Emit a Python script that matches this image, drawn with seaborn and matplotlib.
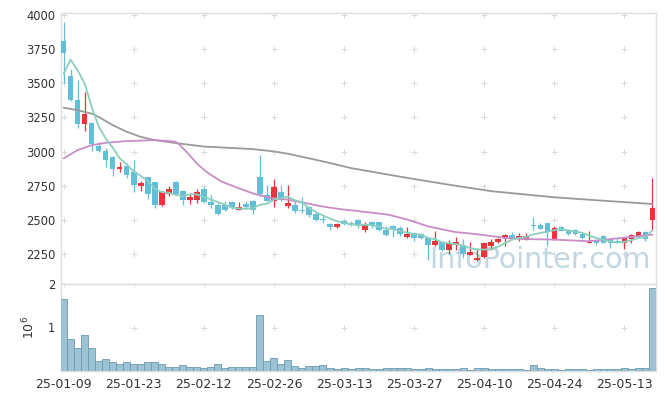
import numpy as np
import pandas as pd
import matplotlib
matplotlib.use("Agg")
import matplotlib.pyplot as plt
import seaborn as sns

# ---------------- data ----------------
holidays = ['2025-01-27', '2025-01-28', '2025-01-29', '2025-01-30',
            '2025-03-03', '2025-05-01', '2025-05-05', '2025-05-06']
dates = [d.strftime('%y-%m-%d') for d in pd.bdate_range('2025-01-09', '2025-05-19')
         if d.strftime('%Y-%m-%d') not in holidays]

opens = [3810, 3554, 3379, 3205, 3210, 3042, 3004, 2962, 2869, 2896,
         2852, 2745, 2811, 2774, 2606, 2691, 2779, 2713, 2643, 2643,
         2728, 2633, 2611, 2611, 2633, 2574, 2618, 2640, 2811, 2684,
         2640, 2706, 2599, 2606, 2574, 2591, 2545, 2509, 2472, 2445,
         2489, 2479, 2501, 2423, 2484, 2484, 2428, 2457, 2441, 2372,
         2404, 2394, 2367, 2313, 2338, 2277, 2313, 2319, 2246, 2204,
         2229, 2307, 2336, 2372, 2392, 2360, 2355, 2460, 2465, 2477,
         2360, 2445, 2421, 2428, 2399, 2331, 2350, 2379, 2362, 2348,
         2331, 2360, 2384, 2411, 2501]
highs = [3950, 3603, 3523, 3437, 3215, 3067, 3028, 2966, 2920, 2913,
         2938, 2787, 2815, 2780, 2709, 2750, 2782, 2718, 2697, 2726,
         2740, 2684, 2624, 2640, 2636, 2633, 2640, 2645, 2977, 2757,
         2799, 2752, 2752, 2648, 2664, 2600, 2560, 2530, 2475, 2480,
         2497, 2490, 2508, 2484, 2486, 2486, 2452, 2460, 2452, 2448,
         2414, 2400, 2370, 2416, 2340, 2355, 2372, 2362, 2338, 2295,
         2338, 2362, 2366, 2395, 2411, 2400, 2405, 2520, 2475, 2480,
         2457, 2452, 2430, 2436, 2402, 2416, 2353, 2390, 2365, 2370,
         2375, 2398, 2420, 2415, 2806]
lows = [3500, 3370, 3169, 3152, 3004, 3000, 2887, 2821, 2847, 2810,
        2704, 2711, 2653, 2587, 2599, 2672, 2685, 2611, 2618, 2624,
        2620, 2587, 2538, 2562, 2582, 2570, 2582, 2545, 2672, 2636,
        2594, 2640, 2587, 2550, 2550, 2520, 2490, 2480, 2423, 2440,
        2460, 2455, 2440, 2410, 2440, 2420, 2385, 2375, 2384, 2368,
        2343, 2360, 2204, 2308, 2270, 2253, 2282, 2221, 2240, 2200,
        2222, 2280, 2330, 2307, 2355, 2345, 2350, 2428, 2430, 2307,
        2355, 2415, 2390, 2390, 2362, 2328, 2315, 2328, 2295, 2330,
        2287, 2330, 2380, 2343, 2428]
closes = [3724, 3381, 3205, 3278, 3055, 3004, 2938, 2869, 2889, 2825,
          2752, 2772, 2686, 2606, 2701, 2728, 2691, 2642, 2670, 2701,
          2628, 2606, 2545, 2575, 2594, 2596, 2594, 2574, 2689, 2640,
          2743, 2648, 2626, 2562, 2565, 2533, 2501, 2499, 2445, 2472,
          2467, 2465, 2452, 2465, 2452, 2423, 2387, 2433, 2394, 2394,
          2370, 2365, 2313, 2348, 2282, 2331, 2338, 2251, 2268, 2224,
          2331, 2341, 2360, 2392, 2360, 2385, 2379, 2455, 2436, 2411,
          2441, 2421, 2399, 2394, 2367, 2343, 2331, 2331, 2331, 2336,
          2367, 2392, 2411, 2362, 2587]
# closes of the four sessions before the window (for the 5-day average)
pre_closes = [2871, 3590, 3768, 3902]

volumes_m = [1.65, 0.73, 0.54, 0.82, 0.52, 0.22, 0.27, 0.20, 0.15, 0.20,
             0.17, 0.17, 0.20, 0.20, 0.15, 0.10, 0.10, 0.13, 0.10, 0.10,
             0.08, 0.10, 0.17, 0.07, 0.10, 0.10, 0.10, 0.10, 1.28, 0.22,
             0.29, 0.15, 0.25, 0.12, 0.07, 0.12, 0.12, 0.14, 0.07, 0.05,
             0.06, 0.04, 0.06, 0.06, 0.04, 0.04, 0.06, 0.06, 0.06, 0.06,
             0.04, 0.04, 0.06, 0.04, 0.04, 0.04, 0.04, 0.06, 0.03, 0.06,
             0.06, 0.05, 0.05, 0.05, 0.05, 0.05, 0.03, 0.13, 0.07, 0.05,
             0.05, 0.03, 0.05, 0.05, 0.05, 0.03, 0.05, 0.05, 0.05, 0.05,
             0.07, 0.05, 0.07, 0.07, 1.90]

ma20_idx = [0, 2, 4, 6, 9, 13, 15.8, 16.3, 17.7, 19.2, 20.6, 22.5, 24.9, 27.2,
            29.6, 32, 34.4, 36.8, 39.2, 41.5, 46.3, 49.1, 52, 55.8, 58.2, 60.6,
            63, 65.4, 70.1, 74.9, 79.6, 84]
ma20_val = [2950, 3011, 3047, 3064, 3077, 3084, 3074, 3062, 2989, 2903, 2843,
            2781, 2733, 2690, 2660, 2648, 2624, 2599, 2580, 2567, 2538, 2501,
            2452, 2411, 2399, 2384, 2367, 2360, 2355, 2343, 2367, 2392]

ma60_idx = [0, 2, 4, 5, 7, 9, 11, 13, 16, 20, 27, 30, 32, 37, 41, 48, 55, 61,
            70, 77, 84]
ma60_val = [3322, 3303, 3278, 3254, 3194, 3145, 3108, 3084, 3062, 3037, 3018,
            3001, 2984, 2928, 2879, 2816, 2757, 2710, 2665, 2640, 2616]

price_ticks = [2250, 2500, 2750, 3000, 3250, 3500, 3750, 4000]
vol_ticks = [1, 2]

# ---------------- derived ----------------
n = len(closes)
idx = np.arange(n)
df = pd.DataFrame({'idx': idx, 'open': opens, 'high': highs, 'low': lows,
                   'close': closes, 'vol': np.array(volumes_m) * 1e6})
ma5 = pd.Series(pre_closes + closes).rolling(5).mean().iloc[len(pre_closes):].to_numpy()

# ---------------- style ----------------
sns.set_style("white")
plt.rcParams['font.family'] = ['DejaVu Sans']

UP = '#e8353a'
DOWN = '#62bfd8'
TEAL = '#8ccfbe'
MAG = '#c98cc6'
GRAY = '#9a9a9a'
TXT = '#333333'
SPINE = '#dedede'
CROSS = '#d9d9d9'

fig = plt.figure(figsize=(6.65, 3.99), dpi=100)
W, H = 665, 399
L, R = 61, 656
ax = fig.add_axes([L / W, 1 - 284 / H, (R - L) / W, (284 - 13) / H])
axv = fig.add_axes([L / W, 1 - 371 / H, (R - L) / W, (371 - 284) / H], sharex=ax)

# ---------------- price panel ----------------
up = df['close'] >= df['open']
colors = np.where(up, UP, DOWN)
body_bottom = np.minimum(df['open'], df['close'])
body_h = np.maximum(np.abs(df['close'] - df['open']), 3)
ax.vlines(df['idx'], df['low'], df['high'], colors=colors, linewidth=0.9, zorder=3)
ax.bar(df['idx'], body_h, bottom=body_bottom, width=0.8, color=colors,
       linewidth=0, zorder=4)

sns.lineplot(x=ma60_idx, y=ma60_val, ax=ax, color=GRAY, linewidth=1.3, zorder=5)
sns.lineplot(x=ma20_idx, y=ma20_val, ax=ax, color=MAG, linewidth=1.3, zorder=5)
sns.lineplot(x=idx, y=ma5, ax=ax, color=TEAL, linewidth=1.3, zorder=5)

ax.text(0.805, 0.088, 'InfoPointer.com', transform=ax.transAxes, ha='center',
        va='center', fontsize=20.5, color='#c2d6e2', zorder=2)

ax.set_xlim(-0.37, 84.5)
ax.set_ylim(2030, 4015)
ax.set_yticks(price_ticks)
ax.set_yticklabels([str(t) for t in price_ticks])
xt = list(range(0, n, 10))
gx, gy = np.meshgrid(xt, price_ticks)
ax.scatter(gx.ravel(), gy.ravel(), marker='+', s=14, color=CROSS, linewidths=0.7, zorder=1)

# ---------------- volume panel ----------------
sns.barplot(data=df, x='idx', y='vol', native_scale=True, ax=axv, width=1.0,
            color='#9cc2d3', saturation=1, edgecolor='#6b9bb2', linewidth=0.6,
            zorder=3)
axv.set_ylim(0, 2.0e6)
axv.set_yticks([v * 1e6 for v in vol_ticks])
axv.set_yticklabels([str(v) for v in vol_ticks])
gx2, gy2 = np.meshgrid(xt, [v * 1e6 for v in vol_ticks])
axv.scatter(gx2.ravel(), gy2.ravel(), marker='+', s=14, color=CROSS, linewidths=0.7, zorder=1)
axv.set_xlim(-0.37, 84.5)
axv.set_xticks(xt)
axv.set_xticklabels([dates[i] for i in xt])
axv.set_xlabel('')
axv.set_ylabel(r'$10^6$', fontsize=9, color=TXT, labelpad=8)

for a in (ax, axv):
    a.tick_params(length=0, colors=TXT, labelsize=8.3, pad=4)
    for s in a.spines.values():
        s.set_color(SPINE)
        s.set_linewidth(1.0)
ax.tick_params(labelbottom=False)
axv.tick_params(axis='x', labelsize=9, pad=5)

fig.savefig('out.png', dpi=100)
